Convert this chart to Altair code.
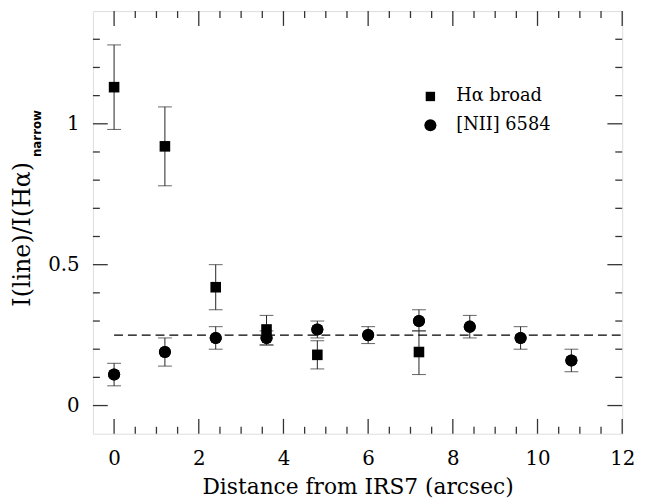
import altair as alt
import pandas as pd

# H-alpha broad (squares)
ha_x = [0.0, 1.2, 2.4, 3.6, 4.8, 7.2]
ha_y = [1.13, 0.92, 0.42, 0.27, 0.18, 0.19]
ha_lo = [0.98, 0.78, 0.34, 0.215, 0.13, 0.11]
ha_hi = [1.28, 1.06, 0.50, 0.32, 0.23, 0.265]

# [NII] 6584 (circles)
n2_x = [0.0, 1.2, 2.4, 3.6, 4.8, 6.0, 7.2, 8.4, 9.6, 10.8]
n2_y = [0.11, 0.19, 0.24, 0.24, 0.27, 0.25, 0.30, 0.28, 0.24, 0.16]
n2_lo = [0.07, 0.14, 0.20, 0.215, 0.24, 0.22, 0.265, 0.24, 0.20, 0.12]
n2_hi = [0.15, 0.24, 0.28, 0.265, 0.30, 0.28, 0.34, 0.32, 0.28, 0.20]

ref_level = 0.25
ref_x = [0.0, 12.0]

x_major = [0, 2, 4, 6, 8, 10, 12]
x_minor = [v * 0.5 for v in range(-1, 25) if v % 4 != 0]
y_major = [0.0, 0.5, 1.0]
y_minor = [round(v * 0.1, 2) for v in range(-1, 15) if v % 5 != 0]

legend_names = ["H\u03b1 broad", "[NII] 6584"]
legend_sym_x = 7.47
legend_txt_x = 8.08
legend_y = [1.097, 0.995]

X_DOM = [-0.5, 12]
Y_DOM = [-0.1, 1.4]
W, H = 536, 428
FONT = "DejaVu Serif"

xs = alt.Scale(domain=X_DOM, nice=False, zero=False)
ys = alt.Scale(domain=Y_DOM, nice=False, zero=False)

ha = pd.DataFrame({"x": ha_x, "y": ha_y, "lo": ha_lo, "hi": ha_hi})
n2 = pd.DataFrame({"x": n2_x, "y": n2_y, "lo": n2_lo, "hi": n2_hi})

base_x = alt.X("x:Q", scale=xs, axis=alt.Axis(
    values=x_major, ticks=False, domain=False, grid=False, labelFlush=False,
    labelFont=FONT, labelFontSize=20, labelColor="black", labelPadding=15,
    title="Distance from IRS7 (arcsec)", titleFont=FONT, titleFontSize=22,
    titleFontWeight="normal", titleColor="black", titlePadding=9))
base_y = alt.Y("y:Q", scale=ys, axis=alt.Axis(
    values=y_major, format="~g", ticks=False, domain=False, grid=False,
    labelFont=FONT, labelFontSize=20, labelColor="black", labelPadding=14,
    title=None))

def err_layers(df):
    rule = alt.Chart(df).mark_rule(color="#222", strokeWidth=1).encode(
        x=alt.X("x:Q", scale=xs), y=alt.Y("lo:Q", scale=ys), y2="hi:Q")
    cap_lo = alt.Chart(df).mark_tick(orient="horizontal", size=14, thickness=1, color="#222").encode(
        x=alt.X("x:Q", scale=xs), y=alt.Y("lo:Q", scale=ys))
    cap_hi = alt.Chart(df).mark_tick(orient="horizontal", size=14, thickness=1, color="#222").encode(
        x=alt.X("x:Q", scale=xs), y=alt.Y("hi:Q", scale=ys))
    return [rule, cap_lo, cap_hi]

pts_n2 = alt.Chart(n2).mark_point(shape="circle", filled=True, color="black", size=150, opacity=1).encode(
    x=base_x, y=base_y)
pts_ha = alt.Chart(ha).mark_point(shape="square", filled=True, color="black", size=115, opacity=1).encode(
    x=alt.X("x:Q", scale=xs), y=alt.Y("y:Q", scale=ys))

dash = alt.Chart(pd.DataFrame({"x": [ref_x[0]], "x2": [ref_x[1]], "y": [ref_level]})).mark_rule(
    color="black", strokeWidth=1.5, strokeDash=[9, 5]).encode(
    x=alt.X("x:Q", scale=xs), x2="x2:Q", y=alt.Y("y:Q", scale=ys))

def xticks(vals, length):
    df = pd.DataFrame({"x": vals})
    bot = alt.Chart(df).mark_rule(color="#333", strokeWidth=1.3).encode(
        x=alt.X("x:Q", scale=xs), y=alt.value(H), y2=alt.value(H - length))
    top = alt.Chart(df).mark_rule(color="#333", strokeWidth=1.3).encode(
        x=alt.X("x:Q", scale=xs), y=alt.value(0), y2=alt.value(length))
    return [bot, top]

def yticks(vals, length):
    df = pd.DataFrame({"y": vals})
    left = alt.Chart(df).mark_rule(color="#333", strokeWidth=1.3).encode(
        y=alt.Y("y:Q", scale=ys), x=alt.value(0), x2=alt.value(length))
    right = alt.Chart(df).mark_rule(color="#333", strokeWidth=1.3).encode(
        y=alt.Y("y:Q", scale=ys), x=alt.value(W), x2=alt.value(W - length))
    return [left, right]

ticks = (xticks(x_major, 15) + xticks([v for v in x_minor if X_DOM[0] < v < X_DOM[1]], 7)
         + yticks(y_major, 15) + yticks([v for v in y_minor if Y_DOM[0] < v < Y_DOM[1]], 7))

leg = pd.DataFrame({"name": legend_names, "y": legend_y, "sx": [legend_sym_x] * 2, "tx": [legend_txt_x] * 2})
leg_sq = alt.Chart(leg.iloc[[0]]).mark_point(shape="square", filled=True, color="black", size=90, opacity=1).encode(
    x=alt.X("sx:Q", scale=xs), y=alt.Y("y:Q", scale=ys))
leg_ci = alt.Chart(leg.iloc[[1]]).mark_point(shape="circle", filled=True, color="black", size=150, opacity=1).encode(
    x=alt.X("sx:Q", scale=xs), y=alt.Y("y:Q", scale=ys))
leg_txt = alt.Chart(leg).mark_text(align="left", baseline="middle", font=FONT, fontSize=18, color="black").encode(
    x=alt.X("tx:Q", scale=xs), y=alt.Y("y:Q", scale=ys), text="name:N")

ytitle_main = alt.Chart(pd.DataFrame({"t": ["I(line)/I(H\u03b1)"]})).mark_text(
    angle=270, align="center", baseline="middle", font=FONT, fontSize=24, color="black").encode(
    x=alt.value(-71), y=alt.value(226), text="t:N")
ytitle_sub = alt.Chart(pd.DataFrame({"t": ["narrow"]})).mark_text(
    angle=270, align="center", baseline="middle", font="DejaVu Sans", fontSize=12, fontWeight="bold",
    color="black").encode(x=alt.value(-57), y=alt.value(124), text="t:N")

chart = alt.layer(
    pts_n2, *err_layers(ha), *err_layers(n2), dash, pts_ha, pts_n2,
    *ticks, leg_sq, leg_ci, leg_txt, ytitle_main, ytitle_sub
).properties(
    width=W, height=H,
    autosize=alt.AutoSizeParams(type="none"),
    padding={"left": 86, "top": 0, "right": 16, "bottom": 66},
).configure_view(stroke="#333", strokeWidth=1.5).configure(background="white")

chart.save("out.html", embed_options={"renderer": "svg", "actions": False})
